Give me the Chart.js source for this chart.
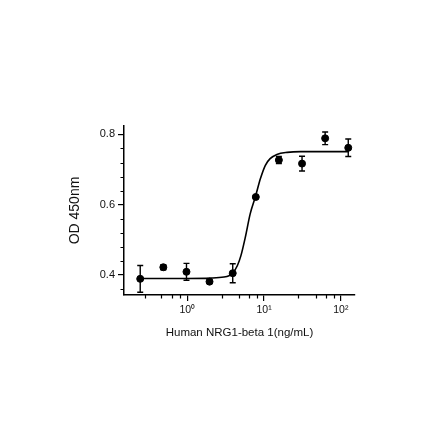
<!DOCTYPE html>
<html>
<head>
<meta charset="utf-8">
<script src="https://cdn.jsdelivr.net/npm/chart.js@4.4.1/dist/chart.umd.min.js"></script>
<style>
    body { margin: 0; background: #fff; }
    #wrap { width: 440px; height: 440px; }
</style>
</head>
<body>
<div id="wrap"><canvas id="od"></canvas></div>
<script>
// measured points (dose in ng/mL, OD450, error)
let doseArr = [0.244, 0.488, 0.977, 1.95, 3.91, 7.81, 15.6, 31.25, 62.5, 125];
let odArr = [0.389, 0.422, 0.409, 0.381, 0.405, 0.622, 0.727, 0.717, 0.789, 0.762];
let errArr = [0.038, 0.007, 0.024, 0.004, 0.027, 0.003, 0.010, 0.021, 0.018, 0.025];

// fitted curve
let curveX = [0.244, 0.5, 1, 2, 3, 3.5, 3.9, 4.5, 5, 5.7, 6.6, 7.7, 9, 10.4, 12, 14.7, 20, 30, 60, 125];
let curveY = [0.390, 0.390, 0.390, 0.391, 0.394, 0.398, 0.405, 0.427, 0.455, 0.507, 0.574, 0.622, 0.675, 0.712, 0.731, 0.743, 0.749, 0.751, 0.751, 0.751];

// ticks
let xTickVals = [1, 10, 100];
let xTickLabels = ['10\u2070', '10\u00b9', '10\u00b2'];
let xMinorVals = [0.28, 0.46, 0.64, 0.8, 2.8, 4.7, 6.4, 8, 28, 47, 64, 82];
let yTickVals = [0.4, 0.6, 0.8];
let yMinorVals = [0.36, 0.44, 0.48, 0.52, 0.56, 0.64, 0.68, 0.72, 0.76];

const errorBars = {
    id: 'errorBars',
    afterDatasetsDraw(chart) {
        const c = chart.ctx;
        const xs = chart.scales.x, ys = chart.scales.y;
        c.save();
        c.strokeStyle = '#000';
        c.lineWidth = 1.4;
        doseArr.forEach((d, i) => {
            const px = xs.getPixelForValue(d);
            const top = ys.getPixelForValue(odArr[i] + errArr[i]);
            const bot = ys.getPixelForValue(odArr[i] - errArr[i]);
            c.beginPath();
            c.moveTo(px, top); c.lineTo(px, bot);
            c.moveTo(px - 3, top); c.lineTo(px + 3, top);
            c.moveTo(px - 3, bot); c.lineTo(px + 3, bot);
            c.stroke();
        });
        c.restore();
    }
};

const minorTicks = {
    id: 'minorTicks',
    afterDraw(chart) {
        const c = chart.ctx;
        const xs = chart.scales.x, ys = chart.scales.y;
        const area = chart.chartArea;
        c.save();
        c.strokeStyle = '#000';
        c.lineWidth = 1.2;
        c.beginPath();
        xMinorVals.forEach(v => {
            const px = Math.round(xs.getPixelForValue(v)) + 0.5;
            c.moveTo(px, area.bottom); c.lineTo(px, area.bottom + 3.5);
        });
        yMinorVals.forEach(v => {
            const py = Math.round(ys.getPixelForValue(v)) + 0.5;
            c.moveTo(area.left, py); c.lineTo(area.left - 3.5, py);
        });
        c.stroke();
        c.restore();
    }
};

const od = document.getElementById('od').getContext('2d');
const odChart = new Chart(od, {
    type: 'scatter',
    data: {
        datasets: [
            {
                type: 'line',
                label: 'fit',
                data: curveX.map((x, i) => ({x: x, y: curveY[i]})),
                borderColor: '#000',
                borderWidth: 1.6,
                pointRadius: 0,
                fill: false,
                cubicInterpolationMode: 'monotone'
            },
            {
                label: 'OD',
                data: doseArr.map((x, i) => ({x: x, y: odArr[i]})),
                backgroundColor: '#000',
                borderColor: '#000',
                pointRadius: 3.5,
                pointHoverRadius: 3.5
            }
        ]
    },
    options: {
        responsive: true,
        maintainAspectRatio: false,
        animation: false,
        layout: {
            padding: {left: 62, right: 85, top: 126, bottom: 95}
        },
        scales: {
            x: {
                type: 'logarithmic',
                min: 0.15,
                max: 153,
                afterBuildTicks: (s) => { s.ticks = xTickVals.map(v => ({value: v})); },
                afterFit: (s) => { s.height = 50; },
                border: {color: '#000', width: 1.5},
                grid: {drawOnChartArea: false, tickLength: 6, color: '#000', lineWidth: 1.2},
                ticks: {
                    color: '#111',
                    padding: 3,
                    maxRotation: 0,
                    font: {family: 'Liberation Sans, Arial', size: 10.5},
                    callback: (v) => xTickLabels[xTickVals.indexOf(v)]
                },
                title: {
                    display: true,
                    text: 'Human NRG1-beta 1(ng/mL)',
                    color: '#111',
                    padding: {top: 0, bottom: 5},
                    font: {family: 'Liberation Sans, Arial', size: 11.5}
                }
            },
            y: {
                min: 0.343,
                max: 0.824,
                afterBuildTicks: (s) => { s.ticks = yTickVals.map(v => ({value: v})); },
                afterFit: (s) => { s.width = 62; },
                border: {color: '#000', width: 1.5},
                grid: {drawOnChartArea: false, tickLength: 6, color: '#000', lineWidth: 1.2},
                ticks: {
                    color: '#111',
                    padding: 3,
                    font: {family: 'Liberation Sans, Arial', size: 11},
                    callback: (v) => v.toFixed(1)
                },
                title: {
                    display: true,
                    text: 'OD 450nm',
                    color: '#111',
                    padding: {top: 5, bottom: 0},
                    font: {family: 'Liberation Sans, Arial', size: 14}
                }
            }
        },
        plugins: {
            legend: {display: false},
            tooltip: {enabled: false}
        }
    },
    plugins: [errorBars, minorTicks]
});
</script>
</body>
</html>
